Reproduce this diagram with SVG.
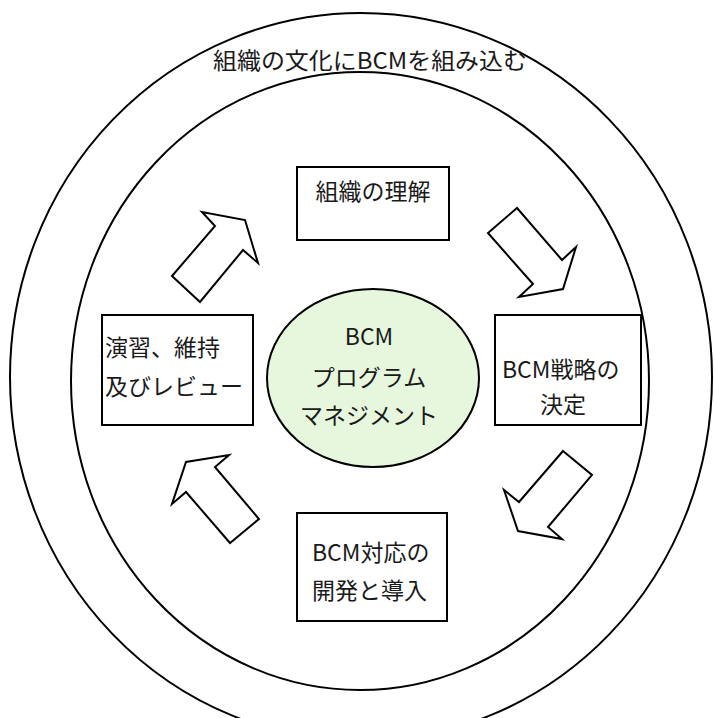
<svg xmlns="http://www.w3.org/2000/svg" width="716" height="718" viewBox="0 0 716 718">
<style>
.ring{fill:none;stroke:#000;stroke-width:2}
.box{fill:#fff;stroke:#000;stroke-width:2}
.arr{fill:#fff;stroke:#000;stroke-width:2;stroke-linejoin:miter}
text{font-family:"Noto Sans CJK JP","Liberation Sans",sans-serif;font-size:23px;fill:#1a1a1a}
.c{text-anchor:middle}
</style>
<rect width="716" height="718" fill="#fff"/>
<g id="outer-circle">
<ellipse class="ring" cx="361" cy="377" rx="351" ry="364"/>
<text x="213" y="69" textLength="314" lengthAdjust="spacingAndGlyphs">組織の文化にBCMを組み込む</text>
</g>
<g id="inner-circle">
<ellipse class="ring" cx="360" cy="381" rx="289" ry="309"/>
</g>
<g id="connectors">
<polygon class="arr" points="172,276 200,302 243,250 258,263 245,220 202,212 215,226"/>
<polygon class="arr" points="488,233 517,208 562,260 576,247 563,289 519,297 533,284"/>
<polygon class="arr" points="563,451 592,475 548,527 562,539 518,531 504,490 519,502"/>
<polygon class="arr" points="259,519 230,543 186,492 172,504 186,462 229,455 215,467"/>
</g>
<g id="node-center">
<ellipse cx="373" cy="378" rx="106" ry="89" fill="#e6f7de" stroke="#000" stroke-width="2"/>
<text class="c" x="369" y="345">BCM</text>
<text class="c" x="369" y="386">プログラム</text>
<text class="c" x="369" y="424">マネジメント</text>
</g>
<g id="node-top">
<rect class="box" x="297" y="167" width="152" height="73"/>
<text class="c" x="373" y="200">組織の理解</text>
</g>
<g id="node-right">
<rect class="box" x="495" y="315" width="146" height="110"/>
<text x="502" y="378">BCM戦略の</text>
<text class="c" x="563" y="413">決定</text>
</g>
<g id="node-bottom">
<rect class="box" x="297" y="513" width="150" height="108"/>
<text x="312" y="561">BCM対応の</text>
<text x="312" y="599">開発と導入</text>
</g>
<g id="node-left">
<rect class="box" x="102" y="315" width="151" height="110"/>
<text x="105" y="356">演習、維持</text>
<text x="105" y="395">及びレビュー</text>
</g>
</svg>
